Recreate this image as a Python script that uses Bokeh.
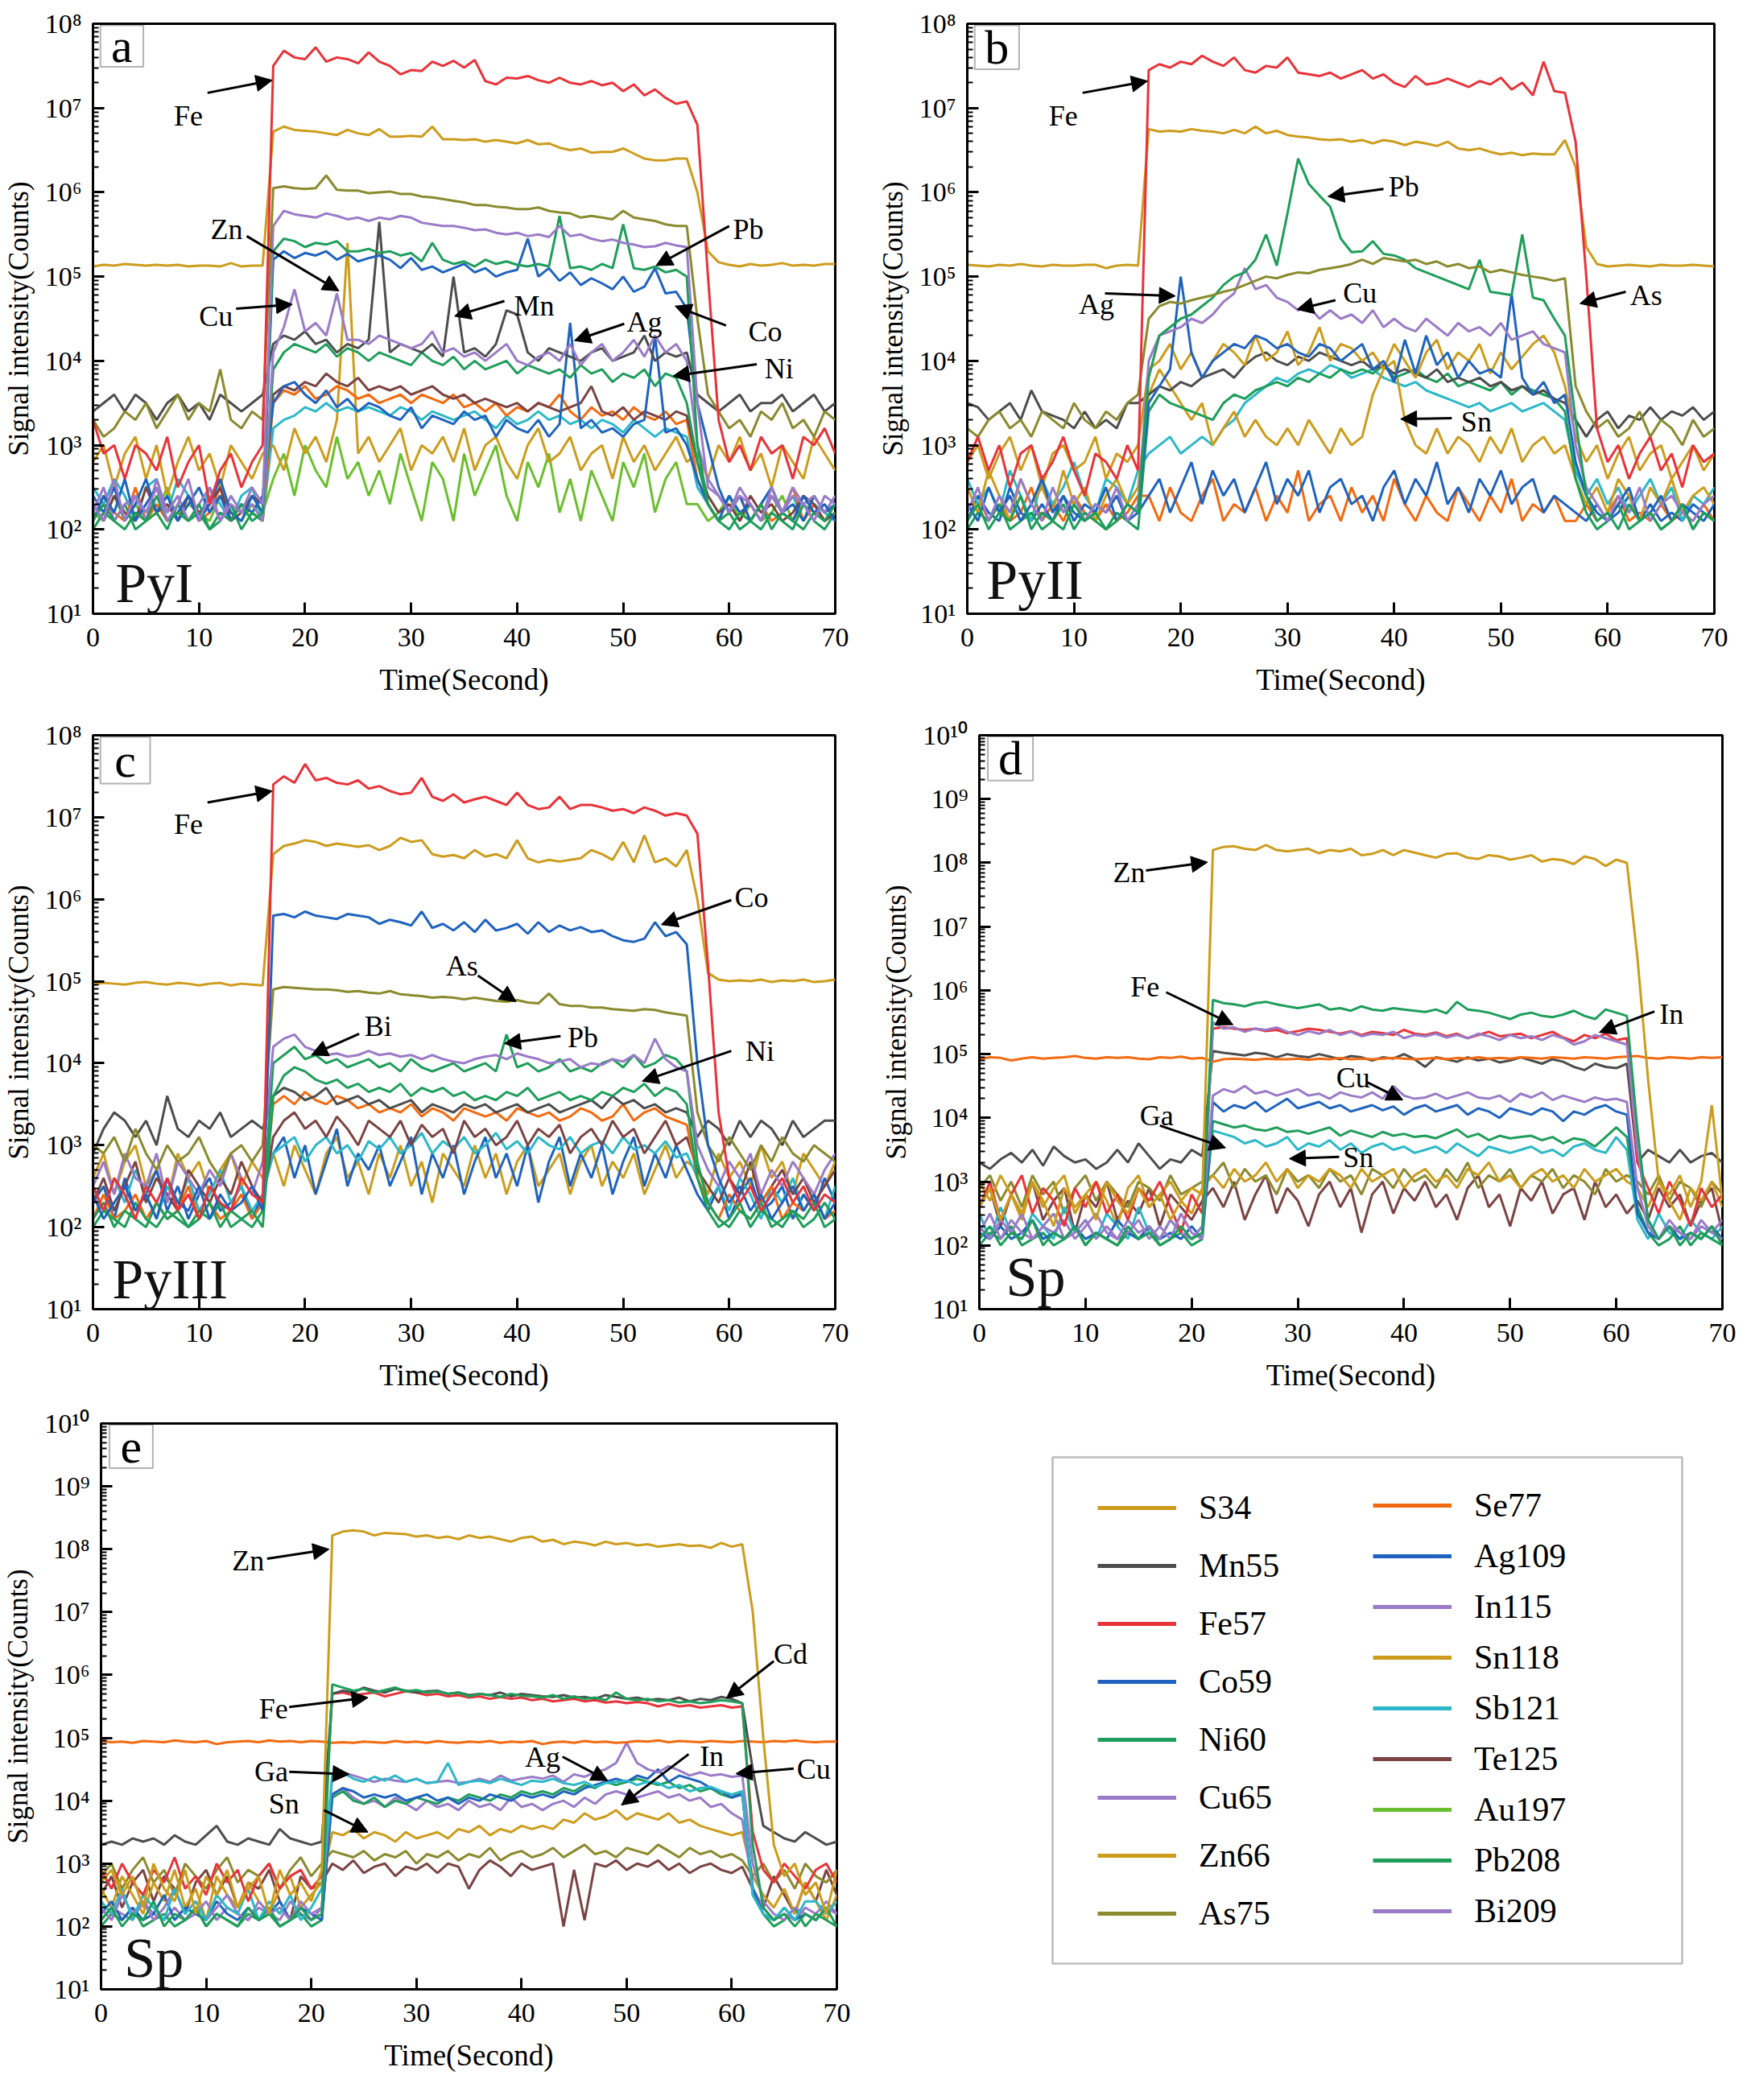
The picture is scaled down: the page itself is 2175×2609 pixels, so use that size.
import numpy as np
from bokeh.plotting import figure
from bokeh.layouts import column, row
from bokeh.models import (Arrow, NormalHead, Label, BoxAnnotation, Legend, LegendItem,
                          Range1d, FixedTicker, CustomJSTickFormatter)
from bokeh.embed import file_html
from bokeh.resources import INLINE

FONT = "Liberation Serif"
GOLD = "#CC9C1C"

# element colours, as in the legend box
COLORS = {
    "S34": GOLD, "Mn55": "#4D4D4D", "Fe57": "#E8333A", "Co59": "#1F63BE",
    "Ni60": "#1E9E5A", "Cu65": "#9A7BC7", "Zn66": GOLD, "As75": "#8A8A2E",
    "Se77": "#F26A10", "Ag109": "#1F63BE", "In115": "#9A7BC7", "Sn118": GOLD,
    "Sb121": "#2CB8C8", "Te125": "#7B4343", "Au197": "#6BBF2E", "Pb208": "#1E9E5A",
    "Bi209": "#9A7BC7",
}
LEGEND_LEFT = ["S34", "Mn55", "Fe57", "Co59", "Ni60", "Cu65", "Zn66", "As75"]
LEGEND_RIGHT = ["Se77", "Ag109", "In115", "Sn118", "Sb121", "Te125", "Au197", "Pb208", "Bi209"]

# ---------------- data: log10(counts), one reading per second from t = 0 ----------------
# (a) PyI
a_s34 = [5.12,5.14,5.13,5.15,5.14,5.13,5.14,5.13,5.14,5.12,5.13,5.13,5.12,5.16,5.12,5.13,5.13,
         6.72,6.78,6.74,6.73,6.72,6.7,6.68,6.74,6.7,6.68,6.75,6.66,6.66,6.67,6.66,6.78,6.63,6.63,6.62,6.63,
         6.6,6.62,6.6,6.58,6.62,6.57,6.58,6.53,6.5,6.52,6.47,6.48,6.48,6.52,6.46,6.4,6.38,6.38,6.4,6.4,
         6.0,5.3,5.17,5.14,5.12,5.15,5.13,5.14,5.16,5.13,5.14,5.13,5.15,5.15]
a_fe57 = [3.3,2.9,3.0,2.6,3.0,2.9,2.7,3.1,2.5,2.8,3.0,2.3,2.7,2.9,2.5,2.8,3.0,
          7.5,7.68,7.6,7.58,7.72,7.55,7.6,7.58,7.53,7.66,7.55,7.5,7.4,7.45,7.44,7.55,7.5,7.56,7.48,7.57,
          7.32,7.28,7.36,7.35,7.38,7.33,7.3,7.36,7.3,7.28,7.32,7.27,7.3,7.2,7.28,7.15,7.22,7.12,7.05,7.08,
          6.8,5.0,3.3,2.8,3.0,2.7,3.1,2.9,3.0,2.6,3.1,3.0,3.2,2.9]
a_as75 = [3.3,3.1,3.2,3.4,3.3,3.5,3.2,3.4,3.6,3.3,3.5,3.4,3.9,3.3,3.2,3.4,3.3,
          6.05,6.07,6.05,6.04,6.05,6.2,6.03,6.02,6.02,5.99,6.0,6.01,5.98,5.98,5.95,5.94,5.92,5.9,5.88,5.85,
          5.85,5.83,5.82,5.8,5.8,5.82,5.78,5.76,5.75,5.7,5.72,5.7,5.68,5.78,5.7,5.68,5.66,5.62,5.6,5.6,
          4.5,3.6,3.4,3.2,3.3,3.1,3.4,3.3,3.5,3.2,3.3,3.1,3.4,3.3]
a_bi209 = [2.3,2.1,2.6,2.1,2.4,2.2,2.5,2.1,2.3,2.6,2.1,2.4,2.1,2.3,2.2,2.5,2.3,
           5.6,5.78,5.74,5.72,5.7,5.75,5.72,5.68,5.7,5.66,5.7,5.68,5.72,5.7,5.64,5.62,5.6,5.6,5.58,5.55,
           5.56,5.52,5.5,5.52,5.48,5.5,5.47,5.6,5.48,5.5,5.45,5.42,5.44,5.4,5.38,5.35,5.36,5.4,5.37,5.35,
           3.5,2.5,2.4,2.2,2.4,2.3,2.1,2.5,2.2,2.4,2.3,2.1,2.4,2.3]
a_pb208 = [2.1,2.3,2.1,2.0,2.2,2.1,2.4,2.1,2.2,2.1,2.3,2.0,2.2,2.1,2.3,2.1,2.2,
           5.3,5.45,5.42,5.35,5.4,5.38,5.42,5.3,5.3,5.33,5.28,5.3,5.25,5.28,5.18,5.4,5.2,5.15,5.18,5.12,
           5.2,5.15,5.18,5.14,5.12,5.15,5.12,5.72,5.1,5.12,5.08,5.15,5.1,5.62,5.1,5.08,5.12,5.05,5.08,5.0,
           3.0,2.3,2.1,2.2,2.0,2.1,2.3,2.0,2.2,2.1,2.0,2.2,2.1,2.3]
a_co59 = [2.1,2.4,2.2,2.6,2.1,2.3,2.5,2.1,2.2,2.4,2.1,2.3,2.6,2.2,2.1,2.4,2.2,
          5.2,5.3,5.22,5.28,5.25,5.3,5.2,5.27,5.18,5.22,5.25,5.2,5.1,5.22,5.08,5.12,5.05,5.1,5.15,5.05,
          5.1,5.0,5.05,5.08,5.45,5.0,5.1,4.95,5.05,4.9,4.98,4.92,4.85,5.0,4.82,4.88,5.1,4.8,4.82,4.62,
          3.5,3.0,2.5,2.2,2.4,2.1,2.3,2.5,2.2,2.1,2.4,2.2,2.3,2.1]
a_cu65 = [2.2,2.5,2.1,2.3,2.4,2.1,2.6,2.2,2.4,2.1,2.3,2.5,2.1,2.4,2.2,2.3,2.1,
          4.1,4.4,4.85,4.35,4.45,4.3,4.8,4.25,4.25,4.2,4.3,4.25,4.2,4.15,4.2,4.35,4.1,4.15,4.05,4.1,
          4.0,4.1,4.2,4.0,3.95,4.05,4.1,4.0,4.2,3.95,4.1,4.2,4.0,4.1,4.25,4.05,4.3,4.1,4.2,4.0,
          3.0,2.6,2.4,2.2,2.5,2.3,2.1,2.4,2.2,2.5,2.3,2.4,2.2,2.4]
a_mn55 = [3.4,3.5,3.6,3.4,3.6,3.5,3.3,3.5,3.6,3.4,3.5,3.3,3.6,3.5,3.4,3.5,3.6,
          4.2,4.3,4.25,4.35,4.2,4.25,4.1,4.2,4.15,4.25,5.65,4.1,4.2,4.15,4.1,4.2,4.05,5.0,4.1,4.15,
          4.05,4.2,4.6,4.55,4.1,4.0,4.15,4.1,4.05,4.0,4.1,4.15,4.0,4.05,4.1,4.3,4.0,4.1,4.05,4.1,
          3.6,3.5,3.4,3.5,3.6,3.4,3.5,3.5,3.6,3.4,3.5,3.6,3.4,3.5]
a_ni60 = [2.0,2.2,2.1,2.3,2.0,2.1,2.2,2.0,2.3,2.1,2.2,2.0,2.1,2.3,2.0,2.2,2.1,
          3.9,4.1,4.2,4.15,4.1,4.2,4.05,4.15,4.1,4.0,4.1,4.05,4.0,3.95,4.1,4.0,3.95,4.05,3.9,4.0,
          3.9,3.95,4.0,3.85,3.95,3.9,3.85,3.9,3.8,3.95,3.85,3.9,3.75,3.85,3.8,3.9,3.7,3.85,3.8,3.5,
          2.8,2.3,2.1,2.0,2.2,2.1,2.0,2.2,2.1,2.0,2.3,2.1,2.0,2.2]
a_ag109 = [2.4,2.2,2.5,2.1,2.3,2.6,2.2,2.4,2.1,2.3,2.5,2.2,2.4,2.1,2.3,2.2,2.4,
           3.5,3.7,3.75,3.6,3.5,3.65,3.45,3.55,3.4,3.5,3.45,3.35,3.3,3.45,3.2,3.35,3.3,3.25,3.4,3.3,
           3.35,3.1,3.3,3.2,3.15,3.3,3.1,3.25,4.45,3.2,3.3,3.15,3.2,3.1,3.25,3.3,4.3,3.15,3.2,3.0,
           2.6,2.3,2.1,2.4,2.2,2.3,2.1,2.4,2.2,2.3,2.1,2.4,2.2,2.3]
a_te125 = [2.3,2.1,2.4,2.2,2.1,2.5,2.2,2.3,2.1,2.4,2.2,2.3,2.5,2.1,2.2,2.4,2.3,
           3.6,3.7,3.65,3.75,3.7,3.85,3.75,3.7,3.8,3.65,3.7,3.65,3.7,3.6,3.65,3.7,3.6,3.55,3.6,3.5,
           3.55,3.5,3.45,3.5,3.4,3.5,3.45,3.4,3.45,3.5,3.7,3.4,3.35,3.45,3.3,3.4,3.35,3.3,3.4,3.35,
           2.8,2.4,2.2,2.3,2.1,2.4,2.2,2.3,2.1,2.2,2.4,2.3,2.1,2.2]
a_se77 = [2.1,2.4,2.2,2.1,2.5,2.1,2.3,2.1,2.2,2.4,2.1,2.2,2.5,2.1,2.3,2.2,2.1,
          3.5,3.65,3.6,3.7,3.55,3.6,3.7,3.65,3.55,3.6,3.5,3.55,3.6,3.5,3.6,3.55,3.5,3.6,3.45,3.5,
          3.4,3.5,3.35,3.45,3.4,3.5,3.45,3.6,3.4,3.3,3.45,3.35,3.4,3.3,3.45,3.35,3.3,3.4,3.25,3.3,
          2.6,2.3,2.1,2.2,2.4,2.1,2.3,2.1,2.2,2.5,2.1,2.3,2.1,2.2]
a_sb121 = [2.5,2.3,2.6,2.4,2.1,2.5,2.6,2.2,2.6,2.4,2.1,2.5,2.3,2.1,2.4,2.5,2.1,
           3.2,3.3,3.35,3.45,3.4,3.5,3.4,3.45,3.4,3.45,3.4,3.35,3.45,3.4,3.3,3.4,3.35,3.3,3.35,3.4,
           3.3,3.2,3.35,3.25,3.3,3.4,3.3,3.35,3.25,3.3,3.2,3.3,3.25,3.15,3.3,3.2,3.1,3.2,3.15,3.1,
           2.5,2.3,2.1,2.4,2.2,2.1,2.3,2.5,2.2,2.4,2.1,2.3,2.2,2.1]
a_zn66 = [2.8,3.0,2.5,2.9,3.1,2.6,3.0,2.4,2.8,3.1,2.7,2.9,2.5,3.0,2.8,2.6,2.9,
          3.0,2.7,3.2,2.9,3.1,2.8,3.3,5.4,2.9,3.1,2.8,3.0,3.2,2.7,3.0,2.9,3.1,2.8,3.2,2.7,
          3.0,3.1,2.8,2.6,3.0,3.2,2.8,2.9,3.1,2.7,2.9,3.0,2.6,3.1,2.8,3.0,2.7,2.9,3.1,2.8,
          2.9,2.6,3.0,2.8,3.1,2.7,2.9,2.5,3.0,2.8,2.6,3.1,2.9,2.7]
a_au197 = [2.2,2.1,2.4,2.1,2.3,2.1,2.2,2.5,2.1,2.3,2.2,2.1,2.4,2.2,2.1,2.3,2.2,
           2.6,2.9,2.4,3.0,2.7,2.5,3.1,2.6,2.8,2.4,2.7,2.3,2.9,2.5,2.1,2.8,2.6,2.1,2.9,2.4,
           2.7,3.0,2.4,2.1,2.8,2.5,2.9,2.2,2.6,2.1,2.7,2.4,2.1,2.8,2.5,2.9,2.2,2.6,2.8,2.3,
           2.3,2.1,2.2,2.4,2.1,2.3,2.1,2.2,2.4,2.1,2.3,2.2,2.1,2.2]

# (b) PyII
b_s34 = [5.14,5.13,5.12,5.14,5.13,5.15,5.13,5.12,5.14,5.13,5.13,5.14,5.14,5.1,5.13,5.14,5.13,
         6.75,6.72,6.73,6.72,6.75,6.73,6.72,6.7,6.74,6.7,6.78,6.7,6.73,6.68,6.66,6.65,6.63,6.62,6.63,6.6,
         6.62,6.58,6.62,6.6,6.56,6.6,6.58,6.55,6.6,6.52,6.5,6.52,6.48,6.45,6.47,6.44,6.46,6.45,6.45,6.62,
         6.3,5.35,5.15,5.12,5.13,5.14,5.13,5.12,5.14,5.13,5.13,5.14,5.13,5.12]
b_fe57 = [2.8,3.1,2.7,3.0,2.5,2.9,3.0,2.6,2.8,3.1,2.7,2.4,2.9,2.8,2.6,3.0,2.7,
          7.45,7.52,7.48,7.55,7.52,7.62,7.55,7.5,7.6,7.45,7.42,7.5,7.48,7.6,7.42,7.4,7.38,7.42,7.35,7.4,
          7.45,7.35,7.4,7.3,7.25,7.38,7.28,7.3,7.35,7.3,7.25,7.32,7.28,7.36,7.22,7.3,7.15,7.55,7.2,7.18,
          6.6,5.0,3.2,2.8,3.0,2.6,2.9,3.1,2.7,2.9,2.5,3.0,2.8,2.9]
b_as75 = [3.2,3.1,3.3,3.4,3.2,3.3,3.1,3.4,3.3,3.2,3.5,3.3,3.2,3.4,3.3,3.5,3.6,
          4.5,4.65,4.7,4.68,4.72,4.75,4.78,4.82,4.85,4.9,4.95,5.0,4.98,5.02,5.05,5.04,5.08,5.1,5.12,5.15,
          5.2,5.15,5.22,5.2,5.18,5.2,5.15,5.18,5.12,5.15,5.1,5.12,5.05,5.08,5.05,5.02,5.0,4.98,4.95,4.98,
          3.7,3.4,3.2,3.3,3.1,3.2,3.4,3.1,3.3,3.2,3.0,3.3,3.1,3.2]
b_pb208 = [2.1,2.3,2.0,2.2,2.1,2.4,2.0,2.2,2.1,2.0,2.3,2.1,2.2,2.0,2.1,2.3,2.2,
           3.8,4.3,4.4,4.5,4.55,4.65,4.75,4.9,5.0,5.05,5.2,5.5,5.13,5.75,6.4,6.1,5.96,5.83,5.45,5.29,
           5.3,5.42,5.27,5.25,5.2,5.1,5.05,5.0,4.95,4.9,4.85,5.2,4.82,4.8,4.78,5.5,4.75,4.72,4.5,4.3,
           3.3,2.4,2.1,2.2,2.0,2.3,2.1,2.2,2.0,2.1,2.3,2.0,2.2,2.1]
b_cu65 = [2.2,2.5,2.1,2.4,2.2,2.6,2.3,2.1,2.5,2.2,2.4,2.1,2.3,2.2,2.5,2.1,2.3,
          4.0,4.3,4.35,4.4,4.5,4.45,4.55,4.7,4.8,5.1,4.85,4.9,4.75,4.7,4.6,4.65,4.5,4.6,4.5,4.55,
          4.45,4.6,4.4,4.5,4.4,4.35,4.5,4.4,4.3,4.45,4.35,4.4,4.3,4.45,4.25,4.3,4.35,4.2,4.15,4.1,
          3.0,2.5,2.3,2.1,2.4,2.2,2.5,2.1,2.3,2.4,2.2,2.1,2.3,2.4]
b_ag109 = [2.3,2.1,2.5,2.2,2.4,2.1,2.3,2.6,2.2,2.4,2.1,2.3,2.2,2.5,2.1,2.3,2.2,
           3.5,3.7,3.9,5.0,4.1,3.8,4.0,4.1,4.2,4.15,4.3,4.25,4.15,4.2,4.1,4.05,4.2,4.15,4.0,4.1,
           4.2,3.9,4.0,3.75,4.25,3.85,4.3,3.95,4.1,3.8,4.0,3.85,3.9,3.8,4.8,3.8,3.6,3.75,3.5,3.6,
           2.8,2.4,2.2,2.1,2.3,2.5,2.1,2.2,2.4,2.1,2.3,2.2,2.1,2.3]
b_mn55 = [3.5,3.45,3.3,3.4,3.5,3.3,3.65,3.4,3.35,3.3,3.2,3.4,3.2,3.3,3.2,3.5,3.5,
          3.6,3.7,3.65,3.75,3.7,3.8,3.85,3.9,3.8,3.95,4.05,4.1,4.0,3.95,4.05,4.0,4.1,4.05,4.0,3.95,
          4.0,3.9,3.95,3.85,3.9,3.85,3.8,3.9,3.75,3.8,3.75,3.8,3.7,3.75,3.65,3.7,3.6,3.65,3.55,3.5,
          3.3,3.1,3.3,3.4,3.2,3.35,3.3,3.45,3.3,3.4,3.35,3.45,3.3,3.4]
b_zn66 = [2.8,3.0,2.6,2.9,3.1,2.7,3.0,2.5,2.9,3.0,2.7,2.8,3.1,2.6,2.9,2.8,3.0,
          3.9,4.0,4.2,3.9,4.1,3.8,4.0,4.2,4.1,3.95,4.3,4.0,4.1,4.35,3.95,4.1,4.4,4.0,4.2,4.15,
          4.0,4.1,3.9,4.2,4.0,3.8,4.1,4.25,3.9,4.1,4.0,4.2,3.85,4.1,3.9,4.05,4.2,4.3,4.1,3.7,
          3.1,2.8,3.0,2.6,2.9,3.1,2.7,2.9,3.0,2.6,2.8,3.0,2.7,2.9]
b_sn118 = [2.5,2.2,2.7,2.4,2.1,2.6,2.3,2.5,2.2,2.7,2.3,2.5,2.1,2.4,2.6,2.3,2.5,
           3.6,3.9,3.7,3.5,3.3,3.5,3.0,3.2,3.4,3.1,3.3,3.1,3.0,3.2,3.0,3.3,3.1,2.9,3.2,3.0,
           3.1,3.6,3.9,4.0,3.3,3.0,2.9,3.2,2.9,3.1,3.0,2.8,3.1,2.9,3.2,2.8,3.0,3.1,2.9,3.0,
           2.6,2.3,2.5,2.2,2.6,2.4,2.1,2.5,2.3,2.6,2.2,2.4,2.5,2.3]
b_sb121 = [2.6,2.3,2.5,2.2,2.7,2.4,2.1,2.6,2.3,2.5,2.8,2.4,2.2,2.6,2.5,2.3,2.7,
           2.9,3.0,3.1,2.9,3.0,3.1,3.0,3.2,3.3,3.5,3.6,3.7,3.8,3.75,3.85,3.9,3.85,3.95,3.9,3.8,
           3.85,3.9,3.8,3.75,3.7,3.75,3.65,3.6,3.55,3.5,3.45,3.5,3.4,3.45,3.5,3.4,3.45,3.5,3.4,3.3,
           2.7,2.4,2.6,2.3,2.5,2.2,2.4,2.6,2.3,2.5,2.1,2.4,2.3,2.5]
b_ni60 = [2.0,2.2,2.1,2.3,2.0,2.1,2.2,2.0,2.1,2.3,2.0,2.2,2.1,2.0,2.2,2.1,2.0,
          3.4,3.6,3.5,3.45,3.4,3.35,3.3,3.5,3.6,3.55,3.65,3.7,3.75,3.7,3.8,3.75,3.85,3.8,3.9,3.85,
          3.9,3.85,3.95,3.8,3.85,3.9,3.8,3.75,3.85,3.7,3.75,3.7,3.65,3.75,3.6,3.7,3.65,3.6,3.55,3.4,
          2.6,2.2,2.0,2.1,2.3,2.0,2.1,2.2,2.0,2.1,2.3,2.0,2.2,2.1]
b_co59 = [2.1,2.4,2.2,2.1,2.5,2.2,2.1,2.3,2.1,2.4,2.2,2.1,2.3,2.2,2.4,2.1,2.2,
          2.4,2.6,2.2,2.5,2.8,2.3,2.7,2.4,2.6,2.2,2.5,2.8,2.3,2.6,2.4,2.7,2.2,2.5,2.6,2.3,
          2.4,2.1,2.5,2.7,2.3,2.6,2.4,2.8,2.3,2.5,2.2,2.6,2.4,2.7,2.3,2.5,2.6,2.2,2.4,2.3,
          2.2,2.1,2.3,2.1,2.2,2.4,2.1,2.3,2.1,2.2,2.1,2.3,2.2,2.1]
b_se77 = [2.1,2.4,2.1,2.3,2.1,2.2,2.5,2.1,2.3,2.1,2.4,2.2,2.1,2.3,2.1,2.2,2.4,
          2.4,2.1,2.5,2.2,2.1,2.4,2.6,2.1,2.3,2.2,2.5,2.1,2.4,2.2,2.7,2.1,2.3,2.4,2.1,2.5,
          2.2,2.4,2.1,2.6,2.3,2.1,2.4,2.2,2.1,2.5,2.3,2.1,2.4,2.2,2.6,2.1,2.3,2.2,2.4,2.1,
          2.1,2.3,2.1,2.2,2.4,2.1,2.2,2.1,2.3,2.1,2.2,2.1,2.3,2.1]

# (c) PyIII
c_s34 = [4.96,4.98,4.97,4.96,4.98,4.99,4.97,4.96,4.98,4.97,4.95,4.97,4.98,4.95,4.97,4.96,4.95,
         6.55,6.65,6.68,6.72,6.7,6.65,6.68,6.66,6.64,6.66,6.6,6.65,6.75,6.7,6.72,6.55,6.52,6.54,6.5,6.6,
         6.52,6.55,6.5,6.72,6.5,6.45,6.48,6.46,6.48,6.5,6.6,6.55,6.48,6.7,6.45,6.78,6.45,6.5,6.4,6.6,
         6.0,5.1,5.02,5.0,5.01,5.0,5.02,4.99,5.01,5.0,5.02,4.99,5.0,5.02]
c_fe57 = [2.5,2.2,2.6,2.4,2.1,2.5,2.3,2.6,2.2,2.4,2.1,2.5,2.3,2.2,2.6,2.4,2.3,
          7.4,7.5,7.42,7.65,7.45,7.48,7.42,7.4,7.45,7.35,7.38,7.32,7.28,7.3,7.48,7.25,7.2,7.28,7.18,7.22,
          7.25,7.2,7.15,7.3,7.15,7.1,7.12,7.25,7.1,7.15,7.15,7.12,7.08,7.1,7.05,7.12,7.08,7.02,7.05,7.02,
          6.8,5.2,3.4,2.6,2.3,2.5,2.2,2.4,2.6,2.3,2.5,2.2,2.4,2.3]
c_co59 = [2.4,2.1,2.3,2.5,2.2,2.4,2.1,2.6,2.3,2.2,2.5,2.1,2.4,2.2,2.3,2.5,2.2,
          5.8,5.82,5.78,5.85,5.8,5.78,5.76,5.82,5.8,5.78,5.7,5.75,5.72,5.68,5.85,5.65,5.7,5.62,5.72,5.6,
          5.75,5.62,5.65,5.7,5.58,5.72,5.6,5.68,5.62,5.66,5.6,5.62,5.55,5.5,5.48,5.52,5.72,5.55,5.6,5.45,
          4.0,3.0,2.6,2.3,2.5,2.2,2.4,2.1,2.3,2.5,2.2,2.4,2.1,2.3]
c_as75 = [3.0,2.9,3.1,2.8,3.2,2.9,2.7,3.0,2.8,2.9,3.1,2.8,2.6,2.9,3.0,2.8,3.0,
          4.9,4.93,4.92,4.91,4.9,4.9,4.89,4.87,4.88,4.86,4.85,4.88,4.84,4.83,4.82,4.8,4.81,4.8,4.78,4.8,
          4.78,4.76,4.75,4.77,4.74,4.73,4.85,4.72,4.7,4.7,4.68,4.68,4.66,4.65,4.64,4.66,4.65,4.62,4.6,4.58,
          3.4,3.0,2.8,3.1,2.9,2.7,3.0,2.8,3.1,2.9,2.8,3.0,2.9,2.8]
c_bi209 = [2.5,2.8,2.4,2.9,2.6,2.5,2.9,2.3,2.8,2.6,2.4,2.7,2.5,2.9,2.6,2.4,2.8,
           4.2,4.3,4.35,4.2,4.15,4.1,4.12,4.08,4.1,4.15,4.1,4.12,4.08,4.1,4.05,4.1,4.05,4.02,4.0,4.05,
           4.08,4.1,4.05,4.12,4.08,4.05,4.0,4.02,4.05,3.95,4.0,3.98,4.05,4.02,4.1,4.0,4.3,4.05,3.95,3.9,
           3.0,2.7,2.5,2.8,2.6,2.9,2.4,2.7,2.5,2.8,2.6,2.4,2.7,2.9]
c_pb208 = [2.1,2.3,2.0,2.2,2.1,2.0,2.3,2.1,2.2,2.0,2.1,2.3,2.0,2.2,2.1,2.0,2.2,
           4.0,4.1,4.2,4.05,4.1,4.0,4.05,3.95,4.0,4.05,3.95,4.0,3.9,4.05,3.95,3.9,3.95,4.0,3.9,3.95,
           4.0,3.9,4.35,3.95,4.0,3.9,3.95,4.05,3.9,3.95,3.9,4.0,4.05,3.95,4.1,3.95,4.0,4.1,4.05,3.9,
           2.8,2.3,2.1,2.0,2.2,2.1,2.3,2.0,2.1,2.2,2.0,2.1,2.3,2.1]
c_ni60 = [2.0,2.2,2.1,2.0,2.3,2.1,2.0,2.2,2.1,2.0,2.2,2.1,2.3,2.0,2.1,2.2,2.0,
          3.6,3.85,3.95,3.9,3.8,3.75,3.8,3.7,3.75,3.65,3.7,3.65,3.75,3.6,3.7,3.65,3.7,3.6,3.65,3.55,
          3.6,3.55,3.65,3.6,3.7,3.55,3.6,3.65,3.55,3.6,3.55,3.65,3.6,3.7,3.65,3.75,3.6,3.7,3.65,3.5,
          2.6,2.2,2.0,2.1,2.3,2.0,2.2,2.1,2.0,2.2,2.1,2.3,2.0,2.1]
c_mn55 = [2.9,3.2,3.4,3.3,3.1,3.3,3.0,3.6,3.2,3.1,3.3,3.2,3.4,3.1,3.2,3.3,3.2,
          3.6,3.7,3.65,3.55,3.6,3.7,3.5,3.55,3.6,3.5,3.55,3.45,3.5,3.55,3.4,3.5,3.45,3.4,3.5,3.45,
          3.5,3.4,3.45,3.5,3.4,3.45,3.5,3.4,3.45,3.5,3.55,3.45,3.6,3.5,3.55,3.45,3.5,3.4,3.45,3.4,
          3.1,3.3,3.2,3.0,3.3,3.1,3.3,3.2,3.0,3.3,3.1,3.2,3.3,3.3]
c_se77 = [2.1,2.4,2.1,2.2,2.4,2.1,2.3,2.1,2.2,2.5,2.1,2.3,2.1,2.2,2.4,2.1,2.3,
          3.5,3.6,3.5,3.65,3.55,3.5,3.6,3.55,3.45,3.5,3.4,3.45,3.4,3.5,3.35,3.45,3.4,3.3,3.45,3.4,
          3.35,3.4,3.3,3.45,3.4,3.35,3.4,3.3,3.35,3.45,3.4,3.3,3.35,3.5,3.3,3.4,3.45,3.35,3.3,3.25,
          2.6,2.3,2.1,2.4,2.2,2.1,2.3,2.5,2.1,2.3,2.2,2.4,2.1,2.2]
c_te125 = [2.3,2.6,2.2,2.5,2.8,2.3,2.6,2.4,2.2,2.7,2.5,2.3,2.6,2.4,2.8,2.5,2.3,
           3.1,3.3,3.4,3.2,3.3,3.1,3.35,3.2,3.0,3.3,3.2,3.1,3.3,3.0,3.25,3.1,3.2,2.9,3.3,3.1,
           3.2,3.0,3.1,3.3,3.0,3.2,3.1,3.25,2.9,3.1,3.2,3.0,3.3,3.1,3.2,2.9,3.1,3.3,3.0,3.1,
           2.7,2.5,2.3,2.6,2.4,2.8,2.3,2.5,2.7,2.4,2.6,2.3,2.5,2.7]
c_sb121 = [2.5,2.2,2.6,2.3,2.7,2.4,2.1,2.5,2.3,2.6,2.2,2.4,2.7,2.3,2.5,2.2,2.4,
           2.9,3.0,3.1,2.8,3.0,3.1,2.9,3.0,2.8,3.05,2.95,3.1,2.9,3.0,3.15,2.9,3.05,2.95,3.1,2.9,
           3.0,3.15,2.95,3.05,2.9,3.1,3.0,2.95,3.1,2.9,3.0,3.05,2.9,3.1,2.95,3.0,2.9,3.05,2.85,2.9,
           2.6,2.3,2.5,2.2,2.6,2.4,2.1,2.5,2.3,2.6,2.2,2.4,2.1,2.5]
c_ag109 = [2.3,2.5,2.1,2.6,2.2,2.4,2.7,2.2,2.5,2.1,2.4,2.6,2.2,2.3,2.5,2.1,2.4,
           2.9,3.1,2.6,3.0,2.4,2.8,3.2,2.5,2.9,2.7,3.0,2.5,2.8,3.1,2.4,2.9,2.6,3.0,2.4,2.8,
           3.1,2.6,2.9,2.5,3.0,2.3,2.8,3.1,2.5,2.9,2.6,3.0,2.4,2.8,3.1,2.5,2.9,2.6,3.0,2.7,
           2.4,2.2,2.5,2.1,2.4,2.6,2.2,2.3,2.5,2.1,2.4,2.2,2.6,2.3]
c_zn66 = [2.6,2.9,2.4,2.8,3.0,2.5,2.7,2.3,2.9,2.6,2.8,2.4,2.7,2.9,2.5,2.8,2.6,
          2.9,2.5,3.0,2.7,2.4,2.9,3.1,2.6,2.8,2.4,2.9,2.6,3.0,2.5,2.8,2.3,2.9,2.7,2.5,3.0,
          2.6,2.9,2.4,2.8,3.0,2.5,2.7,2.9,2.4,2.8,3.0,2.5,2.8,2.6,2.9,2.4,2.7,3.0,2.6,2.8,
          2.7,2.4,2.9,2.6,2.8,2.5,3.0,2.6,2.8,2.4,2.9,2.7,2.5,2.8]

# (d) Sp
d_zn66 = [2.6,2.9,2.4,2.8,2.5,3.0,2.7,2.3,2.9,2.6,2.8,2.4,3.0,2.7,2.5,2.9,2.6,2.8,2.4,2.7,2.9,2.8,
          8.2,8.25,8.26,8.22,8.2,8.28,8.2,8.18,8.2,8.22,8.15,8.2,8.18,8.22,8.12,8.14,8.2,8.12,8.2,8.16,
          8.12,8.08,8.14,8.15,8.08,8.06,8.12,8.1,8.05,8.08,8.12,8.02,8.06,8.04,7.98,8.1,8.06,7.95,8.05,8.0,
          6.5,4.6,3.0,2.8,3.1,2.6,3.0,4.2,2.7]
d_se77 = [4.92,4.95,4.94,4.9,4.93,4.95,4.93,4.94,4.95,4.97,4.94,4.93,4.95,4.94,4.95,4.93,4.92,4.95,4.94,4.96,4.93,4.94,
          4.88,4.92,4.93,4.92,4.91,4.93,4.92,4.92,4.93,4.91,4.93,4.92,4.94,4.92,4.93,4.92,4.93,4.94,4.93,4.92,
          4.93,4.94,4.92,4.94,4.93,4.95,4.93,4.94,4.93,4.95,4.94,4.93,4.95,4.94,4.93,4.95,4.94,4.93,4.95,4.96,
          4.97,4.94,4.93,4.95,4.94,4.93,4.95,4.94,4.95]
d_pb208 = [2.1,2.3,2.0,2.2,2.1,2.4,2.0,2.2,2.1,2.3,2.0,2.2,2.1,2.0,2.3,2.1,2.2,2.0,2.1,2.3,2.1,2.2,
           5.85,5.8,5.78,5.75,5.8,5.82,5.78,5.75,5.72,5.75,5.78,5.7,5.72,5.68,5.75,5.7,5.68,5.72,5.7,5.68,
           5.66,5.7,5.64,5.82,5.7,5.68,5.65,5.6,5.55,5.62,5.65,5.6,5.58,5.62,5.68,5.6,5.55,5.7,5.65,5.6,
           3.8,2.4,2.1,2.3,2.0,2.2,2.1,2.3,2.0]
d_fe57 = [2.6,3.0,2.4,2.8,3.1,2.5,2.9,2.7,2.3,2.9,2.6,3.0,2.5,2.8,2.4,2.9,2.7,3.0,2.6,2.2,2.8,2.5,
          5.4,5.42,5.4,5.38,5.4,5.36,5.38,5.33,5.36,5.4,5.38,5.35,5.32,5.36,5.3,5.35,5.33,5.3,5.38,5.32,
          5.3,5.34,5.28,5.32,5.25,5.3,5.35,5.28,5.3,5.32,5.25,5.3,5.35,5.26,5.2,5.3,5.25,5.32,5.22,5.25,
          3.3,2.9,2.5,3.0,2.7,2.3,2.9,2.6,2.8]
d_in115 = [2.2,2.5,2.1,2.4,2.2,2.1,2.3,2.5,2.1,2.2,2.4,2.1,2.3,2.1,2.2,2.4,2.1,2.3,2.1,2.5,2.2,2.1,
           5.5,5.4,5.42,5.35,5.4,5.38,5.42,5.35,5.3,5.36,5.32,5.38,5.3,5.35,5.28,5.32,5.3,5.35,5.25,5.3,
           5.28,5.32,5.26,5.3,5.25,5.32,5.28,5.22,5.3,5.25,5.28,5.22,5.3,5.25,5.15,5.2,5.3,5.25,5.2,5.15,
           3.5,2.4,2.1,2.3,2.2,2.1,2.4,2.2,2.1]
d_mn55 = [3.3,3.2,3.35,3.45,3.3,3.5,3.25,3.55,3.4,3.3,3.35,3.2,3.3,3.5,3.3,3.6,3.4,3.2,3.35,3.3,3.5,3.4,
          5.05,5.02,5.0,4.98,5.02,5.0,4.95,5.0,4.97,4.95,5.0,4.96,4.92,4.97,4.95,4.9,4.95,4.93,5.0,4.92,
          4.8,4.95,4.92,4.88,4.95,4.9,4.93,4.87,4.9,4.95,4.9,4.85,4.92,4.88,4.8,4.75,4.85,4.8,4.78,4.85,
          3.3,3.5,3.4,3.3,3.5,3.3,3.4,3.45,3.3]
d_cu65 = [2.3,2.1,2.4,2.2,2.5,2.1,2.3,2.2,2.4,2.1,2.3,2.5,2.2,2.1,2.4,2.2,2.3,2.1,2.4,2.2,2.1,2.3,
          4.35,4.45,4.4,4.5,4.38,4.42,4.35,4.4,4.45,4.35,4.38,4.3,4.4,4.35,4.32,4.4,4.3,4.5,4.35,4.3,
          4.32,4.38,4.3,4.35,4.4,4.32,4.3,4.35,4.25,4.38,4.32,4.4,4.28,4.35,4.3,4.25,4.32,4.28,4.3,4.25,
          2.9,2.3,2.1,2.4,2.2,2.1,2.3,2.2,2.4]
d_co59 = [2.2,2.1,2.3,2.1,2.2,2.4,2.1,2.2,2.1,2.3,2.1,2.2,2.1,2.4,2.2,2.1,2.3,2.1,2.2,2.1,2.3,2.1,
          4.25,4.1,4.2,4.15,4.25,4.1,4.2,4.3,4.15,4.2,4.25,4.15,4.2,4.1,4.15,4.2,4.12,4.18,4.05,4.15,
          4.2,4.1,4.15,4.2,4.05,4.15,4.1,4.0,4.15,4.1,4.05,4.15,4.1,3.95,4.1,4.05,4.15,4.2,4.1,4.05,
          2.5,2.2,2.1,2.3,2.1,2.2,2.1,2.3,2.1]
d_ni60 = [2.0,2.2,2.1,2.3,2.0,2.1,2.2,2.0,2.1,2.3,2.0,2.2,2.1,2.0,2.2,2.1,2.3,2.0,2.1,2.2,2.0,2.1,
          3.95,3.9,3.85,3.88,3.82,3.8,3.85,3.78,3.8,3.75,3.8,3.85,3.72,3.8,3.75,3.7,3.78,3.72,3.75,3.7,
          3.72,3.68,3.75,3.82,3.7,3.75,3.65,3.72,3.68,3.7,3.72,3.65,3.7,3.6,3.68,3.65,3.55,3.7,3.85,3.7,
          2.6,2.2,2.0,2.1,2.3,2.0,2.2,2.1,2.0]
d_sb121 = [2.5,2.1,2.6,2.2,2.1,2.5,2.3,2.1,2.6,2.2,2.4,2.1,2.5,2.3,2.1,2.6,2.2,2.1,2.4,2.2,2.1,2.3,
           3.8,3.75,3.7,3.6,3.65,3.55,3.6,3.7,3.5,3.6,3.55,3.65,3.5,3.6,3.45,3.55,3.6,3.5,3.55,3.45,
           3.5,3.55,3.45,3.6,3.5,3.4,3.55,3.5,3.45,3.5,3.55,3.45,3.5,3.4,3.55,3.6,3.5,3.45,3.7,3.5,
           2.4,2.1,2.5,2.2,2.1,2.4,2.2,2.1,2.3]
d_as75 = [2.9,3.1,2.7,3.0,2.6,3.1,2.8,3.0,2.5,2.9,3.1,2.7,3.0,2.8,2.6,3.0,2.9,2.7,3.1,2.8,2.9,3.0,
          3.1,3.3,2.9,3.2,3.0,3.1,2.8,3.2,3.0,3.1,2.9,3.2,3.0,3.1,2.8,3.2,3.1,2.9,3.2,3.0,
          3.1,2.9,3.2,3.0,3.3,2.9,3.1,3.0,3.2,2.9,3.1,3.0,3.2,2.9,3.1,3.0,2.8,3.2,3.0,3.1,
          3.0,2.8,3.1,2.7,3.0,2.9,2.6,3.0,2.8]
d_te125 = [2.6,2.9,2.3,2.8,2.5,3.0,2.4,2.7,2.9,2.2,2.8,2.6,3.0,2.4,2.7,2.5,2.9,2.3,2.8,2.6,2.4,2.7,
           2.9,2.6,3.0,2.4,2.8,3.1,2.5,2.9,2.7,2.3,2.8,3.0,2.6,2.9,2.2,2.8,3.0,2.5,2.9,2.7,
           3.0,2.6,2.8,2.4,2.9,3.1,2.6,2.8,2.3,2.9,2.7,3.0,2.5,2.8,2.9,2.4,3.0,2.6,2.8,2.5,
           2.7,2.4,2.9,2.6,2.8,2.3,2.7,2.9,2.2]
d_sn118 = [3.0,2.7,3.1,2.8,2.4,3.0,2.6,2.9,3.1,2.5,2.8,3.0,2.7,2.3,2.9,3.1,2.6,2.8,3.0,2.7,2.5,2.9,
           3.1,2.9,3.2,3.0,3.1,3.3,3.0,3.2,2.9,3.1,3.0,3.2,3.1,2.9,3.2,3.0,3.1,3.2,2.9,3.1,
           3.2,3.0,3.1,2.9,3.2,3.1,3.3,3.0,3.1,2.9,3.1,3.2,3.0,3.1,2.9,3.2,3.0,3.1,3.2,3.0,
           2.9,2.6,3.0,2.7,2.4,2.9,2.7,3.0,2.6]

# (e) Sp
e_zn66 = [2.7,2.9,2.5,2.8,2.3,3.0,2.6,2.4,2.9,2.2,2.8,2.5,2.9,2.3,2.6,2.8,2.2,2.9,2.5,2.7,2.4,2.9,
          8.22,8.28,8.3,8.28,8.22,8.26,8.25,8.24,8.2,8.22,8.18,8.2,8.16,8.22,8.18,8.2,8.16,8.12,8.18,8.2,
          8.12,8.15,8.08,8.12,8.1,8.06,8.12,8.08,8.1,8.06,8.08,8.04,8.06,8.08,8.05,8.06,8.02,8.1,8.04,8.08,
          7.0,5.0,3.3,2.8,3.0,2.5,2.7,2.2,2.9]
e_se77 = [4.95,4.93,4.94,4.92,4.95,4.94,4.93,4.96,4.94,4.93,4.95,4.9,4.93,4.94,4.95,4.93,4.96,4.94,4.95,4.93,4.95,4.94,
          4.92,4.93,4.92,4.94,4.93,4.92,4.95,4.93,4.94,4.92,4.95,4.93,4.92,4.94,4.93,4.95,4.92,4.94,4.93,4.95,
          4.9,4.93,4.94,4.92,4.95,4.93,4.94,4.92,4.93,4.95,4.94,4.96,4.93,4.95,4.94,4.93,4.95,4.94,4.93,4.95,
          4.94,4.93,4.95,4.94,4.96,4.94,4.93,4.94,4.94]
e_mn55 = [3.3,3.35,3.3,3.4,3.35,3.4,3.3,3.45,3.35,3.3,3.45,3.6,3.35,3.3,3.4,3.35,3.3,3.55,3.4,3.35,3.3,3.35,
          5.7,5.75,5.72,5.8,5.75,5.72,5.78,5.75,5.72,5.74,5.75,5.7,5.72,5.68,5.7,5.68,5.72,5.66,5.7,5.68,
          5.66,5.65,5.68,5.64,5.65,5.62,5.68,5.65,5.62,5.64,5.6,5.62,5.6,5.64,5.58,5.62,5.6,5.65,5.62,5.55,
          4.5,3.6,3.5,3.4,3.35,3.5,3.4,3.3,3.35]
e_fe57 = [2.9,2.6,3.0,2.7,2.5,2.9,2.7,3.1,2.6,2.8,2.5,3.0,2.7,2.9,2.4,2.8,3.0,2.6,2.8,2.9,2.6,2.8,
          5.7,5.72,5.68,5.7,5.72,5.66,5.7,5.74,5.72,5.68,5.7,5.66,5.68,5.64,5.66,5.62,5.65,5.62,5.64,5.6,
          5.62,5.58,5.6,5.62,5.58,5.6,5.56,5.58,5.55,5.57,5.55,5.5,5.54,5.5,5.52,5.48,5.5,5.52,5.48,5.5,
          3.5,2.9,2.7,3.0,2.8,2.6,2.9,3.0,2.7]
e_pb208 = [2.1,2.3,2.0,2.2,2.1,2.4,2.0,2.2,2.1,2.3,2.0,2.2,2.1,2.0,2.3,2.1,2.2,2.0,2.1,2.3,2.1,2.2,
           5.85,5.8,5.75,5.78,5.72,5.76,5.8,5.74,5.76,5.72,5.74,5.7,5.72,5.66,5.7,5.68,5.65,5.7,5.67,5.66,
           5.64,5.68,5.62,5.66,5.62,5.64,5.6,5.72,5.62,5.6,5.62,5.58,5.6,5.56,5.58,5.55,5.57,5.6,5.58,5.55,
           3.3,2.3,2.1,2.2,2.0,2.2,2.1,2.3,2.0]
e_sb121 = [2.4,2.2,2.6,2.1,2.5,2.3,2.1,2.6,2.2,2.4,2.1,2.5,2.3,2.2,2.6,2.1,2.4,2.2,2.5,2.1,2.3,2.6,
           4.4,4.45,4.35,4.3,4.38,4.32,4.4,4.3,4.35,4.28,4.3,4.6,4.25,4.3,4.32,4.28,4.35,4.3,4.25,4.32,
           4.3,4.35,4.28,4.25,4.3,4.22,4.28,4.3,4.32,4.25,4.3,4.28,4.2,4.25,4.15,4.2,4.22,4.15,4.1,4.15,
           2.5,2.2,2.1,2.3,2.1,2.4,2.4,2.2,2.4]
e_cu65 = [2.3,2.1,2.5,2.2,2.4,2.1,2.3,2.6,2.2,2.4,2.1,2.3,2.5,2.2,2.1,2.4,2.2,2.3,2.1,2.4,2.2,2.3,
          4.4,4.45,4.4,4.35,4.3,4.35,4.32,4.3,4.35,4.28,4.3,4.32,4.28,4.3,4.35,4.3,4.4,4.32,4.35,4.38,
          4.35,4.4,4.3,4.42,4.38,4.45,4.5,4.6,4.92,4.6,4.5,4.45,4.55,4.48,4.4,4.45,4.4,4.42,4.38,4.4,
          3.0,2.4,2.2,2.1,2.3,2.2,2.1,2.3,2.2]
e_ag109 = [2.2,2.4,2.1,2.3,2.1,2.2,2.5,2.1,2.3,2.2,2.1,2.4,2.2,2.1,2.3,2.1,2.2,2.4,2.1,2.3,2.2,2.1,
           4.1,4.2,4.15,4.05,4.1,4.05,4.1,4.0,4.05,4.1,4.0,4.05,3.95,4.05,4.0,4.1,4.05,4.0,4.1,4.05,
           4.1,4.05,4.15,4.1,4.2,4.25,4.3,4.35,4.3,4.4,4.35,4.5,4.3,4.4,4.35,4.3,4.2,4.15,4.05,4.1,
           2.6,2.2,2.1,2.3,2.1,2.2,2.1,2.3,2.2]
e_ni60 = [2.0,2.2,2.1,2.3,2.0,2.1,2.2,2.0,2.1,2.3,2.0,2.2,2.1,2.0,2.2,2.1,2.3,2.0,2.1,2.2,2.0,2.1,
          4.05,4.15,4.0,3.95,4.05,3.9,4.0,3.95,4.05,4.0,3.95,4.05,4.0,4.1,4.05,4.0,4.1,4.05,4.15,4.1,
          4.15,4.1,4.2,4.15,4.25,4.2,4.3,4.25,4.3,4.35,4.3,4.25,4.3,4.2,4.25,4.15,4.2,4.1,4.05,4.15,
          2.5,2.2,2.0,2.1,2.3,2.0,2.2,2.1,2.0]
e_in115 = [2.1,2.3,2.2,2.1,2.4,2.2,2.1,2.3,2.1,2.2,2.4,2.1,2.3,2.2,2.1,2.3,2.2,2.1,2.4,2.2,2.1,2.3,
           4.1,4.2,4.05,3.95,4.0,3.9,4.05,3.95,3.85,4.0,3.9,3.95,3.85,4.0,3.9,3.95,3.85,4.05,3.9,3.95,
           3.85,3.95,4.0,3.9,4.05,3.95,4.1,4.15,4.1,4.05,4.1,4.15,4.05,4.1,4.0,4.05,3.9,3.95,3.8,3.7,
           2.6,2.3,2.1,2.2,2.1,2.3,2.2,2.4,2.2]
e_sn118 = [2.6,2.3,2.8,2.5,2.2,2.7,2.4,2.9,2.3,2.6,2.1,2.8,2.5,2.3,2.7,2.4,2.2,2.6,2.8,2.3,2.5,2.7,
           3.5,3.45,3.55,3.4,3.5,3.45,3.35,3.5,3.4,3.45,3.5,3.4,3.55,3.5,3.6,3.45,3.55,3.5,3.6,3.55,
           3.6,3.55,3.7,3.65,3.8,3.7,3.75,3.85,3.7,3.8,3.75,3.7,3.8,3.65,3.7,3.6,3.55,3.5,3.45,3.5,
           2.8,2.5,2.3,2.6,2.2,2.7,2.4,2.1,2.5]
e_as75 = [2.8,3.0,2.6,2.9,3.1,2.7,2.9,2.5,3.0,2.8,2.6,2.9,3.1,2.7,2.9,2.8,3.0,2.6,2.9,3.1,2.8,3.0,
          3.2,3.15,3.1,3.2,3.05,3.15,3.1,3.2,3.0,3.15,3.1,3.2,3.05,3.15,3.1,3.25,3.05,3.15,3.2,3.1,
          3.15,3.25,3.1,3.2,3.3,3.15,3.2,3.1,3.25,3.2,3.15,3.3,3.2,3.1,3.25,3.15,3.2,3.1,3.15,3.05,
          2.8,3.0,2.7,2.9,2.6,3.0,2.8,2.7,2.9]
e_te125 = [2.5,2.8,2.3,2.7,2.9,2.4,2.8,2.6,2.2,2.7,2.9,2.5,2.8,2.3,2.7,2.6,2.9,2.4,2.1,2.8,2.6,2.7,
           3.0,2.9,3.05,2.85,2.95,3.0,2.8,2.95,2.9,3.0,2.85,3.0,2.95,2.6,2.9,3.05,2.95,2.8,3.0,2.9,
           2.95,3.0,2.0,2.9,2.1,3.0,2.95,3.05,2.9,3.0,2.95,3.05,2.9,3.0,2.85,2.95,3.0,2.9,2.85,2.95,
           2.6,2.3,2.8,2.5,2.2,2.7,2.4,2.9,2.5]

# drawing order: noise first, strong signals last
panel_a = [("Au197", a_au197), ("Zn66", a_zn66), ("Sb121", a_sb121), ("Se77", a_se77),
           ("Te125", a_te125), ("Ag109", a_ag109), ("Ni60", a_ni60), ("Mn55", a_mn55),
           ("Cu65", a_cu65), ("Co59", a_co59), ("Pb208", a_pb208), ("Bi209", a_bi209),
           ("As75", a_as75), ("S34", a_s34), ("Fe57", a_fe57)]
panel_b = [("Se77", b_se77), ("Co59", b_co59), ("Sb121", b_sb121), ("Sn118", b_sn118),
           ("Ni60", b_ni60), ("Mn55", b_mn55), ("Zn66", b_zn66), ("Ag109", b_ag109),
           ("Cu65", b_cu65), ("Pb208", b_pb208), ("As75", b_as75), ("S34", b_s34), ("Fe57", b_fe57)]
panel_c = [("Zn66", c_zn66), ("Ag109", c_ag109), ("Sb121", c_sb121), ("Te125", c_te125),
           ("Se77", c_se77), ("Mn55", c_mn55), ("Ni60", c_ni60), ("Pb208", c_pb208),
           ("Bi209", c_bi209), ("As75", c_as75), ("Co59", c_co59), ("S34", c_s34), ("Fe57", c_fe57)]
panel_d = [("Te125", d_te125), ("As75", d_as75), ("Sn118", d_sn118), ("Sb121", d_sb121),
           ("Ni60", d_ni60), ("Co59", d_co59), ("Cu65", d_cu65), ("Mn55", d_mn55),
           ("Se77", d_se77), ("Fe57", d_fe57), ("In115", d_in115), ("Pb208", d_pb208), ("Zn66", d_zn66)]
panel_e = [("Te125", e_te125), ("As75", e_as75), ("Sn118", e_sn118), ("In115", e_in115),
           ("Ni60", e_ni60), ("Ag109", e_ag109), ("Cu65", e_cu65), ("Sb121", e_sb121),
           ("Se77", e_se77), ("Fe57", e_fe57), ("Mn55", e_mn55), ("Pb208", e_pb208), ("Zn66", e_zn66)]

# labels: (text, label x, label log-y, arrow start x, log-y, arrow end x, log-y)
notes_a = [("Fe", 9.0, 6.91, 10.8, 7.18, 16.9, 7.33), ("Zn", 12.6, 5.56, 14.5, 5.48, 23.2, 4.83),
           ("Cu", 11.6, 4.53, 13.5, 4.62, 18.8, 4.67), ("Mn", 41.6, 4.65, 38.8, 4.71, 34.1, 4.53),
           ("Ag", 52.0, 4.46, 50.1, 4.44, 45.4, 4.24), ("Pb", 61.8, 5.56, 60.0, 5.6, 53.1, 5.13),
           ("Co", 63.4, 4.35, 59.7, 4.42, 54.9, 4.65), ("Ni", 64.7, 3.91, 62.6, 3.96, 54.7, 3.82)]
notes_b = [("Fe", 9.0, 6.91, 10.8, 7.18, 16.9, 7.32), ("Pb", 40.9, 6.07, 39.0, 6.04, 33.8, 5.95),
           ("Ag", 12.1, 4.67, 12.9, 4.8, 19.5, 4.77), ("Cu", 36.8, 4.81, 34.5, 4.72, 30.9, 4.61),
           ("As", 63.6, 4.78, 61.7, 4.82, 57.4, 4.68), ("Sn", 47.7, 3.28, 45.4, 3.32, 40.6, 3.31)]
notes_c = [("Fe", 9.0, 6.92, 10.8, 7.18, 16.9, 7.32), ("Co", 62.1, 6.02, 60.2, 5.99, 53.6, 5.69),
           ("As", 34.8, 5.19, 36.3, 5.07, 39.9, 4.75), ("Bi", 26.9, 4.45, 25.1, 4.36, 20.6, 4.1),
           ("Pb", 46.2, 4.31, 44.1, 4.33, 38.8, 4.24), ("Ni", 62.9, 4.15, 60.2, 4.15, 51.8, 3.78)]
notes_d = [("Zn", 14.1, 7.85, 15.7, 7.88, 21.5, 8.01), ("Fe", 15.6, 6.05, 17.6, 5.97, 23.9, 5.46),
           ("In", 65.2, 5.63, 63.6, 5.67, 58.4, 5.34), ("Cu", 35.2, 4.63, 36.5, 4.56, 39.9, 4.28),
           ("Ga", 16.7, 4.04, 17.0, 3.88, 23.2, 3.53), ("Sn", 35.7, 3.38, 33.9, 3.39, 29.2, 3.36)]
notes_e = [("Zn", 14.0, 7.82, 15.8, 7.85, 21.7, 8.0), ("Fe", 16.4, 5.46, 17.9, 5.49, 25.4, 5.64),
           ("Cd", 65.6, 6.33, 64.0, 6.22, 59.5, 5.63), ("Ga", 16.2, 4.46, 17.9, 4.46, 23.6, 4.42),
           ("Sn", 17.4, 3.95, 21.2, 3.85, 25.4, 3.5), ("Ag", 42.0, 4.69, 43.9, 4.7, 48.2, 4.32),
           ("In", 58.1, 4.7, 55.9, 4.74, 49.5, 3.93), ("Cu", 67.8, 4.5, 65.9, 4.51, 60.4, 4.43)]


def sup_formatter():
    return CustomJSTickFormatter(code="""
        const sup = ["\u2070","\u00b9","\u00b2","\u00b3","\u2074","\u2075","\u2076","\u2077","\u2078","\u2079"];
        const e = Math.round(Math.log10(tick));
        return "10" + String(e).split("").map(d => sup[+d]).join("");
    """)


BORDER_B = 114


def make_panel(series, letter, box, sample, sample_pos, notes, top_exp, width, height, bl, br, bt):
    p = figure(width=width, height=height, y_axis_type="log",
               x_range=Range1d(0, 70), y_range=Range1d(10, 10 ** top_exp),
               output_backend="svg", toolbar_location=None,
               min_border_left=bl, min_border_right=br,
               min_border_top=bt, min_border_bottom=BORDER_B,
               background_fill_color="white", border_fill_color="white")
    p.grid.visible = False
    p.outline_line_color = "black"
    p.outline_line_width = 3
    p.outline_line_alpha = 1.0

    for name, vals in series:
        t = np.arange(len(vals))
        p.line(t, 10 ** np.array(vals), line_color=COLORS[name], line_width=3)

    p.xaxis.ticker = FixedTicker(ticks=list(range(0, 71, 10)))
    p.yaxis.ticker = FixedTicker(ticks=[10.0 ** k for k in range(1, top_exp + 1)],
                                 minor_ticks=[m * 10.0 ** k for k in range(1, top_exp) for m in range(2, 10)])
    p.yaxis.formatter = sup_formatter()
    p.xaxis.axis_label = "Time(Second)"
    p.yaxis.axis_label = "Signal intensity(Counts)"
    for ax in (p.xaxis[0], p.yaxis[0]):
        ax.axis_line_width = 3
        ax.major_tick_in = 14
        ax.major_tick_out = 0
        ax.minor_tick_in = 7
        ax.minor_tick_out = 0
        ax.major_tick_line_width = 3
        ax.minor_tick_line_width = 2
        ax.major_label_text_font = FONT
        ax.major_label_text_font_size = "34px"
        ax.major_label_text_color = "black"
        ax.axis_label_text_font = FONT
        ax.axis_label_text_font_style = "normal"
        ax.axis_label_text_color = "black"
    p.xaxis.major_label_standoff = 18
    p.xaxis.axis_label_standoff = 18
    p.xaxis.axis_label_text_font_size = "37px"
    p.yaxis.major_label_standoff = 14
    p.yaxis.axis_label_standoff = 10
    p.yaxis.axis_label_text_font_size = "35px"

    # panel letter in its box
    x0, x1, y0, y1 = box
    p.add_layout(BoxAnnotation(left=x0, right=x1, bottom=10 ** y0, top=10 ** y1,
                               fill_color="white", fill_alpha=1.0,
                               line_color="black", line_width=2))
    p.add_layout(Label(x=(x0 + x1) / 2, y=10 ** ((y0 + y1) / 2), text=letter,
                       text_font=FONT, text_font_size="60px", text_align="center",
                       text_baseline="middle", text_color="black"))
    p.add_layout(Label(x=sample_pos[0], y=10 ** sample_pos[1], text=sample,
                       text_font=FONT, text_font_size="70px", text_align="left",
                       text_baseline="alphabetic", text_color="#111111"))

    for txt, lx, ly, sx, sy, ex, ey in notes:
        p.add_layout(Arrow(end=NormalHead(size=20, fill_color="black", line_color="black"),
                           x_start=sx, y_start=10 ** sy, x_end=ex, y_end=10 ** ey,
                           line_color="black", line_width=3))
        p.add_layout(Label(x=lx, y=10 ** ly, text=txt, text_font=FONT,
                           text_font_size="36px", text_align="center",
                           text_baseline="middle", text_color="black"))
    return p


pa = make_panel(panel_a, "a", (0.7, 4.75, 7.49, 7.98), "PyI", (2.1, 1.36), notes_a, 8,
                1085, 876, 111, 48, 29)
pb = make_panel(panel_b, "b", (0.7, 4.86, 7.46, 7.98), "PyII", (1.8, 1.4), notes_b, 8,
                1074, 876, 116, 30, 29)
pc = make_panel(panel_c, "c", (0.7, 5.39, 7.41, 7.98), "PyIII", (1.8, 1.36), notes_c, 8,
                1085, 864, 111, 48, 37)
pd = make_panel(panel_d, "d", (0.8, 5.05, 9.29, 9.98), "Sp", (2.5, 1.5), notes_d, 10,
                1074, 864, 131, 20, 37)
pe = make_panel(panel_e, "e", (0.8, 4.93, 9.29, 9.98), "Sp", (2.2, 1.5), notes_e, 10,
                1085, 845, 125, 46, 28)

# legend box: a plain frame whose data units are pixels from its lower-left corner
LEG_W, LEG_H, LEG_T = 1074, 845, 28
LEG_L, LEG_R = 20, 20
fw, fh = LEG_W - LEG_L - LEG_R, LEG_H - LEG_T - BORDER_B
leg = figure(width=LEG_W, height=LEG_H, x_range=Range1d(0, fw), y_range=Range1d(0, fh),
             x_axis_location=None, y_axis_location=None,
             output_backend="svg", toolbar_location=None,
             min_border_left=LEG_L, min_border_right=LEG_R,
             min_border_top=LEG_T, min_border_bottom=BORDER_B,
             background_fill_color="white", border_fill_color="white")
leg.grid.visible = False
leg.outline_line_color = None
leg.add_layout(BoxAnnotation(left=202, right=984, bottom=32, top=661,
                             fill_alpha=0, line_color="#222222", line_width=2.5))


def legend_column(names, loc, spacing):
    items = []
    for n in names:
        r = leg.line([-20, -10], [-20, -20], line_color=COLORS[n], line_width=5)
        items.append(LegendItem(label=n, renderers=[r]))
    lg = Legend(items=items, location=loc, orientation="vertical",
                label_text_font=FONT, label_text_font_size="42px", label_text_color="black",
                glyph_width=98, glyph_height=48, label_height=48, label_standoff=28,
                spacing=spacing, padding=0, margin=0,
                border_line_color=None, background_fill_alpha=0)
    leg.add_layout(lg)


legend_column(LEGEND_LEFT, (258, 70), 24)
legend_column(LEGEND_RIGHT, (600, 73), 15)

layout = column(row(pa, pb), row(pc, pd), row(pe, leg))

open("out.html", "w", encoding="utf-8").write(file_html(layout, INLINE))
